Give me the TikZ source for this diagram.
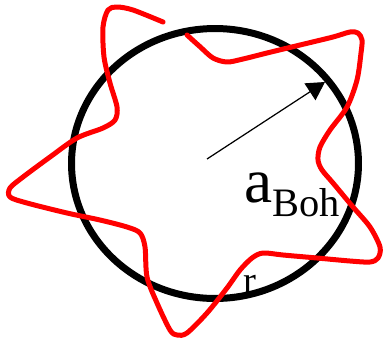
\documentclass[tikz,border=0pt]{standalone}
\usepackage{fontspec}
\setmainfont{Liberation Serif}
\usepackage{xcolor}
\usepackage{tikz}
\usetikzlibrary{shapes.geometric, arrows.meta, positioning}
\definecolor{wavered}{RGB}{255, 0, 0}
\tikzstyle{orbitline} = [
    ellipse,
    draw=black,
    line width=0.14cm,
    inner sep=0pt,
    minimum width=5.74cm,
    minimum height=5.4cm
]
\tikzstyle{wave} = [
    draw=wavered,
    line width=0.1cm,
    line cap=round,
    line join=round
]
\tikzstyle{arrow} = [
    line width=0.7pt,
    -{Triangle[length=0.36cm, width=0.4cm]},
    color=black
]

\begin{document}
\begin{tikzpicture}[x=0.02cm, y=-0.02cm]
        \useasboundingbox (0,0) rectangle (384,345);
        % Orbit
        \node[orbitline] (bohr) at (215,163.5) {};
        \coordinate (nucleus) at (207,159);
        \coordinate (rim) at (325,82);
        
        % Electron wave
        \draw[wave] plot[smooth, tension=0.5] coordinates {
            (187,35) (200,46.7) (213,58) (227,62) (243,59) (267,53) (300,45)
            (333,37) (350,32) (358,33) (362,40) (361,53) (357,80) (347,107)
            (330,130) (320,147) (318,160) (322,170) (333,183) (353,207)
            (370,227) (380,247) (378,258) (370,262) (350,261) (317,258)
            (283,255) (263,253) (252,258) (240,270) (227,288) (207,313)
            (187,333) (177,335) (170,330) (157,303) (147,277) (145,247)
            (140,233) (127,227) (100,220) (67,213) (27,203) (10,197) (10,188)
            (23,177) (50,157) (77,138) (103,128) (115,120) (117,107) (110,83)
            (104,57) (103,27) (108,10) (117,7) (133,10) (163,22)};
        
        % Radius
        \draw[arrow] (nucleus) -- (rim);
        \node[anchor=base west, inner sep=0pt] (radius) at (244,202)
            {\fontsize{36}{36}\selectfont a\raisebox{-0.29cm}{\fontsize{23}{23}\selectfont Boh}};
        \node[anchor=base west, inner sep=0pt] (coord) at (243,293)
            {\fontsize{22}{22}\selectfont r};
    \end{tikzpicture}
\end{document}
